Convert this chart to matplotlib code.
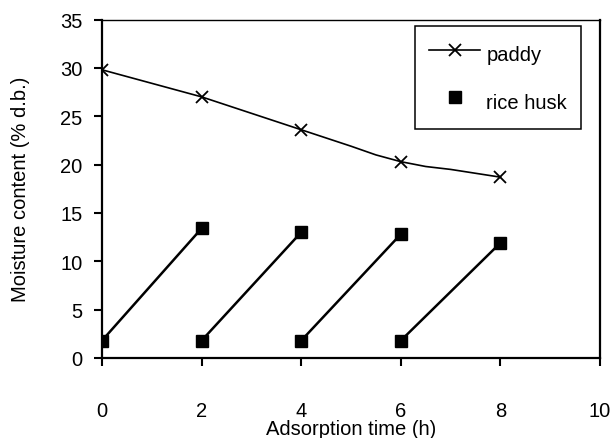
import matplotlib
matplotlib.use("Agg")
import matplotlib.pyplot as plt

plt.rcParams['font.family'] = ['Liberation Sans', 'DejaVu Sans']

paddy_time = [0, 2, 4, 6, 8]
paddy_mc = [29.8, 27.0, 23.6, 20.3, 18.7]
paddy_line_time = [0, 2, 4, 5, 5.5, 6, 6.5, 7, 8]
paddy_line_mc = [29.8, 27.0, 23.6, 21.9, 21.0, 20.3, 19.8, 19.5, 18.7]

# rice husk: each batch starts dry and picks up moisture over 2 h
husk_start_time = [0, 2, 4, 6]
husk_end_time = [2, 4, 6, 8]
husk_start_mc = [1.8, 1.8, 1.8, 1.8]
husk_end_mc = [13.4, 13.0, 12.8, 11.9]

xticks = [0, 2, 4, 6, 8, 10]
yticks = [0, 5, 10, 15, 20, 25, 30, 35]

FS = 14.5

fig = plt.figure(figsize=(6.11, 4.39), dpi=100)
ax = fig.add_axes([102/611, 1-359/439, 498/611, 338.5/439])

ax.plot(paddy_line_time, paddy_line_mc, color='black', lw=1.2, zorder=2)
ax.plot(paddy_time, paddy_mc, ls='none', marker='x', ms=9, mew=1.3,
        color='black', zorder=3)

for t0, t1, m0, m1 in zip(husk_start_time, husk_end_time, husk_start_mc, husk_end_mc):
    ax.plot([t0, t1], [m0, m1], color='black', lw=1.8, zorder=2)
ax.plot(husk_start_time + husk_end_time, husk_start_mc + husk_end_mc, ls='none',
        marker='s', ms=8.5, color='black', zorder=3)

# legend proxies (paddy: line + cross, rice husk: square only)
h1, = ax.plot([], [], color='black', lw=1.2, marker='x', ms=9, mew=1.3)
h2, = ax.plot([], [], ls='none', color='black', marker='s', ms=8.5)
leg = ax.legend([h1, h2], ['paddy', 'rice husk'], loc='upper left',
                bbox_to_anchor=(415/611, 1-27/439), bbox_transform=fig.transFigure,
                borderaxespad=0, fontsize=FS, numpoints=1, handlelength=2.55,
                handleheight=1.7, handletextpad=0.3, labelspacing=1.0,
                borderpad=0.7, fancybox=False, framealpha=1)
leg.get_frame().set_edgecolor('black')
leg.get_frame().set_linewidth(1.1)

ax.set_xlim(0, 10)
ax.set_ylim(0, 35)
ax.set_xticks(xticks)
ax.set_yticks(yticks)
ax.tick_params(axis='both', direction='out', length=6, width=1.5, labelsize=FS,
               colors='black')
ax.tick_params(axis='x', pad=25)
ax.tick_params(axis='y', pad=8)

for side in ['left', 'bottom', 'right']:
    ax.spines[side].set_linewidth(1.6)
ax.spines['top'].set_linewidth(1.0)

ax.set_xlabel('Adsorption time (h)', fontsize=FS, labelpad=-1)
ax.set_ylabel('Moisture content (% d.b.)', fontsize=FS, labelpad=22)

fig.savefig('out.png', dpi=100)
